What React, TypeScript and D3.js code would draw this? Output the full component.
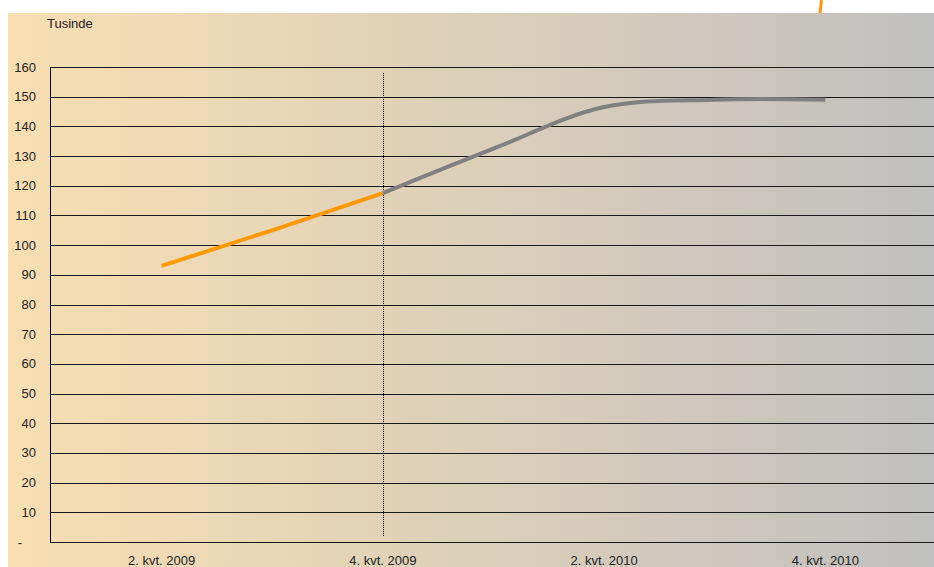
import React from "react";
import * as d3 from "d3";

// kvartaler på x-aksen (kun hver anden vises som label)
const quarters = [
  "1. kvt. 2009",
  "2. kvt. 2009",
  "3. kvt. 2009",
  "4. kvt. 2009",
  "1. kvt. 2010",
  "2. kvt. 2010",
  "3. kvt. 2010",
  "4. kvt. 2010",
  "1. kvt. 2011",
];
const shownLabels = ["2. kvt. 2009", "4. kvt. 2009", "2. kvt. 2010", "4. kvt. 2010"];

// faktiske tal (orange)
const actualQuarters = ["2. kvt. 2009", "3. kvt. 2009", "4. kvt. 2009"];
const actualValues = [93, 105, 117.5];

// prognose (grå)
const forecastQuarters = ["4. kvt. 2009", "1. kvt. 2010", "2. kvt. 2010", "3. kvt. 2010", "4. kvt. 2010"];
const forecastValues = [117.5, 132.5, 146.5, 149, 149];

const yTicks = [0, 10, 20, 30, 40, 50, 60, 70, 80, 90, 100, 110, 120, 130, 140, 150, 160];
const dividerQuarter = "4. kvt. 2009";

export default function App() {
  const W = 934;
  const H = 567;
  const font = "'Liberation Sans', Arial, sans-serif";

  const x = d3.scalePoint<string>().domain(quarters).range([51, 936]);
  const y = d3.scaleLinear().domain([0, 160]).range([542, 67]);

  const line = d3
    .line<[string, number]>()
    .x(d => x(d[0]) as number)
    .y(d => y(d[1]));

  const actualPath = line.curve(d3.curveLinear)(
    actualQuarters.map((q, i) => [q, actualValues[i]] as [string, number])
  );
  const forecastPath = line.curve(d3.curveCatmullRom.alpha(0.5))(
    forecastQuarters.map((q, i) => [q, forecastValues[i]] as [string, number])
  );

  const divX = Math.round(x(dividerQuarter) as number) + 0.5;

  return (
    <svg
      width={W}
      height={H}
      style={{ position: "absolute", left: 0, top: 0, display: "block" }}
    >
      <defs>
        <linearGradient id="bg" x1="0" x2="1" y1="0" y2="0">
          <stop offset="0%" stopColor="#f8dfb2" />
          <stop offset="100%" stopColor="#c0c0c0" />
        </linearGradient>
      </defs>
      <rect x={0} y={0} width={W} height={H} fill="#ffffff" />
      <rect x={8} y={13} width={W - 8} height={H - 13} fill="url(#bg)" />

      {/* rest af en orange streg over diagrammet */}
      <line x1={821.5} y1={0} x2={820} y2={13} stroke="#ff9900" strokeWidth={3} />

      <text x={47} y={28} fontFamily={font} fontSize={13} fill="#222">
        Tusinde
      </text>

      {/* gitterlinjer */}
      {yTicks.map(t => (
        <line
          key={t}
          x1={50}
          x2={W}
          y1={Math.round(y(t)) + 0.5}
          y2={Math.round(y(t)) + 0.5}
          stroke="#1a1a1a"
          strokeWidth={1}
        />
      ))}
      <line x1={50.5} x2={50.5} y1={67} y2={542.5} stroke="#000" strokeWidth={1} />

      {/* y-labels */}
      {yTicks.map(t => (
        <text
          key={"l" + t}
          x={t === 0 ? 22 : 36}
          y={y(t) + 4.5}
          textAnchor="end"
          fontFamily={font}
          fontSize={13}
          fill="#222"
        >
          {t === 0 ? "-" : t}
        </text>
      ))}

      {/* x-labels */}
      {shownLabels.map(q => (
        <text
          key={q}
          x={x(q) as number}
          y={565}
          textAnchor="middle"
          fontFamily={font}
          fontSize={13}
          fill="#222"
        >
          {q}
        </text>
      ))}

      {/* skillelinje mellem faktisk og prognose */}
      <line
        x1={divX}
        x2={divX}
        y1={73}
        y2={536}
        stroke="#000"
        strokeWidth={1}
        strokeDasharray="1,1"
      />

      <path d={forecastPath || ""} fill="none" stroke="#808080" strokeWidth={4} />
      <path d={actualPath || ""} fill="none" stroke="#ff9900" strokeWidth={4} />
    </svg>
  );
}
